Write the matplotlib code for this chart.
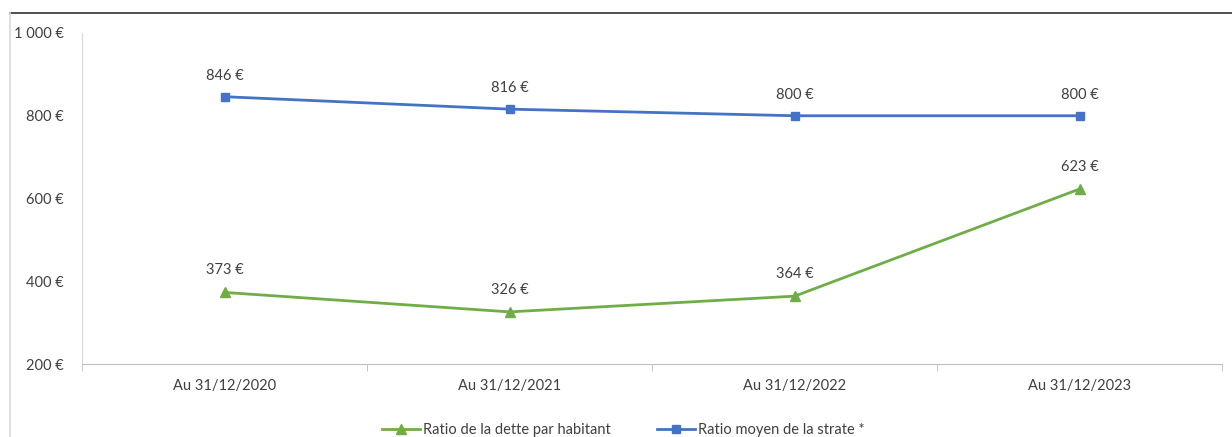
import matplotlib.pyplot as plt
from matplotlib.lines import Line2D
from matplotlib.ticker import FuncFormatter, FixedLocator

plt.rcParams['font.family'] = ['Lato', 'DejaVu Sans']

categories = ["Au 31/12/2020", "Au 31/12/2021", "Au 31/12/2022", "Au 31/12/2023"]
dette = [373, 326, 364, 623]
strate = [846, 816, 800, 800]
label_dette = "Ratio de la dette par habitant"
label_strate = "Ratio moyen de la strate *"

GREEN = "#70AD47"
BLUE = "#4472C4"
TEXT = "#404040"


def euro(v, pos=None):
    s = f"{int(v):,}".replace(",", " ")
    return s + " €"


fig = plt.figure(figsize=(12.32, 4.37), dpi=100)
ax = fig.add_axes([0.0666, 0.167, 0.9254, 0.7575])

x = range(len(categories))
ax.plot(x, dette, color=GREEN, lw=2, marker="^", ms=7, label=label_dette)
ax.plot(x, strate, color=BLUE, lw=2, marker="s", ms=5.5, label=label_strate)

for xi, v in zip(x, dette):
    ax.annotate(euro(v), (xi, v), xytext=(0, 11), textcoords="offset points",
                ha="center", va="bottom", fontsize=10.5, color=TEXT)
for xi, v in zip(x, strate):
    ax.annotate(euro(v), (xi, v), xytext=(0, 10), textcoords="offset points",
                ha="center", va="bottom", fontsize=10.5, color=TEXT)

ax.set_xlim(-0.5, len(categories) - 0.5)
ax.set_ylim(200, 1000)
ax.set_yticks([200, 400, 600, 800, 1000])
ax.yaxis.set_major_formatter(FuncFormatter(euro))
ax.tick_params(axis="y", length=0, labelsize=10.5, labelcolor=TEXT, pad=13)

ax.set_xticks(list(x))
ax.set_xticklabels(categories)
ax.xaxis.set_minor_locator(FixedLocator([i - 0.5 for i in range(len(categories) + 1)]))
ax.tick_params(axis="x", which="major", length=0, labelsize=10.5, labelcolor=TEXT, pad=11)
ax.tick_params(axis="x", which="minor", length=5, color="#BFBFBF", direction="out")

for s in ["top", "right"]:
    ax.spines[s].set_visible(False)
ax.spines["left"].set_color("#D9D9D9")
ax.spines["bottom"].set_color("#BFBFBF")

ax.legend(loc="upper center", bbox_to_anchor=(0.475, -0.14), ncol=2, frameon=False,
          fontsize=10.5, labelcolor=TEXT, handlelength=2.6, columnspacing=3.2, handletextpad=0.2)

# frame lines from the screenshot
fig.add_artist(Line2D([10 / 1232, 1], [1 - 13 / 437, 1 - 13 / 437], color="#333333", lw=1.2))
fig.add_artist(Line2D([10 / 1232, 10 / 1232], [0, 1 - 13 / 437], color="#D9D9D9", lw=1.2))

fig.savefig("out.png", dpi=100)
